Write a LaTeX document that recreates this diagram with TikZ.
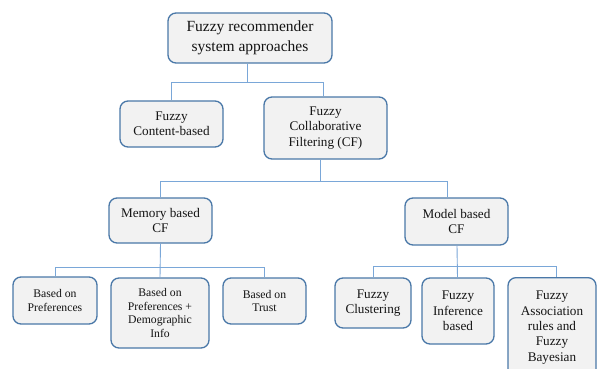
\documentclass[tikz,border=0pt]{standalone}
\usepackage{fontspec}
\setmainfont{Liberation Serif}
\definecolor{boxfill}{HTML}{F2F2F2}
\definecolor{boxline}{HTML}{4A78A8}
\definecolor{conn}{HTML}{7AA7D8}
\definecolor{txt}{HTML}{141414}
\tikzset{
  box/.style={draw=boxline, line width=1.3pt, fill=boxfill, rounded corners=8pt,
    align=center, inner sep=0pt, text=txt},
  bigtxt/.style={font=\fontsize{15.5}{20}\selectfont},
  midtxt/.style={font=\fontsize{13.2}{15.3}\selectfont},
  smalltxt/.style={font=\fontsize{11.7}{13.4}\selectfont},
  link/.style={draw=conn, line width=0.9pt},
}
\begin{document}
\begin{tikzpicture}[x=1pt,y=-1pt]
\useasboundingbox (0,0) rectangle (597,369);
\clip (0,0) rectangle (597,369);
\fill[white] (0,0) rectangle (597,369);
% nodes
\node[box,bigtxt,minimum width=164pt,minimum height=50pt] (root) at (250,38) {Fuzzy recommender\\system approaches};
\node[box,midtxt,minimum width=103pt,minimum height=46pt] (cont) at (171.5,124) {Fuzzy\\Content-based};
\node[box,midtxt,minimum width=123pt,minimum height=62pt] (cf) at (325.5,128) {Fuzzy\\Collaborative\\Filtering (CF)};
\node[box,midtxt,minimum width=103pt,minimum height=45pt] (mem) at (160.5,220.5) {Memory based\\CF};
\node[box,midtxt,minimum width=103pt,minimum height=47pt] (mod) at (456.5,221.5) {Model based\\CF};
\node[box,smalltxt,minimum width=84pt,minimum height=47pt] (pref) at (55,300.5) {Based on\\Preferences};
\node[box,smalltxt,minimum width=98pt,minimum height=70pt] (demo) at (160,313) {Based on\\Preferences +\\Demographic\\Info};
\node[box,smalltxt,minimum width=83pt,minimum height=46pt] (trust) at (264.5,301) {Based on\\Trust};
\node[box,midtxt,minimum width=76pt,minimum height=50pt] (clus) at (373,303) {Fuzzy\\Clustering};
\node[box,midtxt,minimum width=72pt,minimum height=66pt] (infer) at (458,311) {Fuzzy\\Inference\\based};
\node[box,midtxt,minimum width=88pt,minimum height=100pt,anchor=north] (assoc) at (552,277) {Fuzzy\\Association\\rules and\\Fuzzy\\Bayesian};
% bus levels
\coordinate (b1) at (0,82);
\coordinate (b2) at (0,181);
\coordinate (b3) at (0,267);
\coordinate (b4) at (0,266);
% connectors
\draw[link] ([xshift=-3pt]root.south) |- (cont.north |- b1) -- (cont.north);
\draw[link] ([xshift=-3pt]root.south |- b1) -| ([xshift=-2.5pt]cf.north);
\draw[link] ([xshift=-5.5pt]cf.south) |- (mem.north |- b2) -- (mem.north);
\draw[link] ([xshift=-5.5pt]cf.south |- b2) -| ([xshift=-9.5pt]mod.north);
\draw[link] (mem.south) -- (demo.north);
\draw[link] (pref.north) |- (trust.north |- b3) -- (trust.north);
\draw[link] ([xshift=0.5pt]mod.south) -- ([xshift=-0.5pt]infer.north);
\draw[link] (clus.north) |- ([xshift=4pt]assoc.north |- b4) -- ([xshift=4pt]assoc.north);
\end{tikzpicture}
\end{document}
